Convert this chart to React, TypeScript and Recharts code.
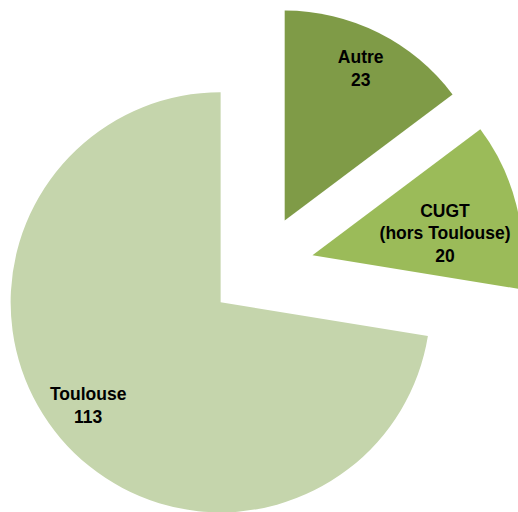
import { PieChart, Pie, Cell } from 'recharts';

const categories = ['Autre', 'CUGT (hors Toulouse)', 'Toulouse'];
const labelLines = [['Autre'], ['CUGT', '(hors Toulouse)'], ['Toulouse']];
const values = [23, 20, 113];
const colors = ['#7f9b47', '#9bbb59', '#c5d5ac'];

// label placement per slice: fraction of radius + small angle nudge (deg)
const labelRadius = [0.81, 0.64, 0.8];
const labelAngleShift = [0, -4.4, -2.4];

const W = 518;
const H = 512;
const BASE_CX = 261;
const BASE_CY = 268;
const R = 210;
const EXPLODE = 53;

const data = categories.map((name, i) => ({ name, value: values[i] }));
const total = values.reduce((s, v) => s + v, 0);

// centre of each exploded slice, pushed out along its own mid angle
function sliceCentre(i: number) {
  const before = values.slice(0, i).reduce((s, v) => s + v, 0);
  const mid = 90 - (360 * (before + values[i] / 2)) / total;
  const rad = (mid * Math.PI) / 180;
  return { cx: BASE_CX + EXPLODE * Math.cos(rad), cy: BASE_CY - EXPLODE * Math.sin(rad) };
}

const makeLabel = (only: number) => (props: any) => {
  const { cx, cy, midAngle, outerRadius, index, value } = props;
  if (index !== only) return null;
  const a = ((midAngle + labelAngleShift[index]) * Math.PI) / 180;
  const r = outerRadius * labelRadius[index];
  const x = cx + r * Math.cos(a);
  const y = cy - r * Math.sin(a);
  const lines = [...labelLines[index], String(value)];
  const lh = 22.6;
  return (
    <g>
      {lines.map((t, k) => (
        <text
          key={k}
          x={x}
          y={y + (k - (lines.length - 1) / 2) * lh}
          textAnchor="middle"
          dominantBaseline="central"
          fontFamily="'Liberation Sans', Arial, sans-serif"
          fontWeight="bold"
          fontSize={17.5}
          fill="#000"
        >
          {t}
        </text>
      ))}
    </g>
  );
};

export default function App() {
  return (
    <div style={{ position: 'absolute', left: 0, top: 0, width: W, height: H, background: '#fff' }}>
      <PieChart width={W} height={H} margin={{ top: 0, right: 0, bottom: 0, left: 0 }}>
        {values.map((_, i) => {
          const c = sliceCentre(i);
          return (
            <Pie
              key={i}
              data={data}
              dataKey="value"
              nameKey="name"
              cx={c.cx}
              cy={c.cy}
              outerRadius={R}
              startAngle={90}
              endAngle={-270}
              stroke="none"
              labelLine={false}
              label={makeLabel(i)}
              isAnimationActive={false}
            >
              {data.map((_, j) => (
                <Cell key={j} fill={j === i ? colors[i] : 'transparent'} stroke="none" />
              ))}
            </Pie>
          );
        })}
      </PieChart>
    </div>
  );
}
